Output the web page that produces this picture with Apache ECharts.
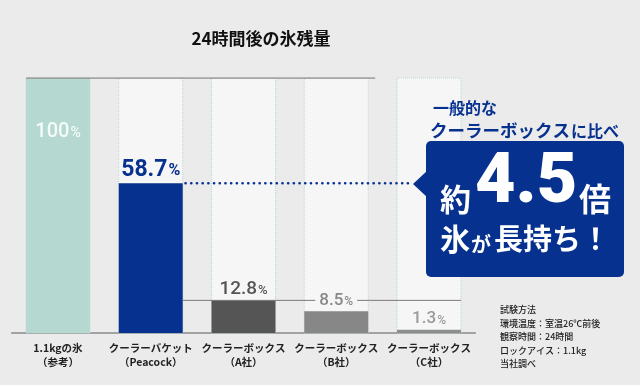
<!DOCTYPE html>
<html>
<head>
<meta charset="utf-8">
<script src="https://cdn.jsdelivr.net/npm/echarts@6/dist/echarts.min.js"></script>
<style>
html,body{margin:0;padding:0;background:#ebebeb;}
#c{width:640px;height:385px;}
</style>
</head>
<body>
<div id="c"></div>
<script>
const categories = ['1.1kgの氷\n（参考）', 'クーラーバケット\n（Peacock）', 'クーラーボックス\n（A社）', 'クーラーボックス\n（B社）', 'クーラーボックス\n（C社）'];
const values = [100, 58.7, 12.8, 8.5, 1.3];
const valueLabels = ['100', '58.7', '12.8', '8.5', '1.3'];
const barColors = ['#b5d8d0', '#06318f', '#555555', '#878787', '#8e8e8e'];
const labelColors = ['#f5fbf9', '#06318f', '#555555', '#888888', '#9a9a9a'];
const labelSizes = [20, 23, 19, 17, 17];
const noteLines = ['試験方法', '環境温度：室温26℃前後', '観察時間：24時間', 'ロックアイス：1.1kg', '当社調べ'];
const titleText = '24時間後の氷残量';

const BLUE = '#06318f';
const CJK = '"Noto Sans CJK JP"';
const NUM = 'Roboto, "Noto Sans CJK JP"';
const gridLeft = 11.6, gridRight = 164.6, gridTop = 78, gridBottom = 52;
const barWidthPx = 64;
const bandPx = (640 - gridLeft - gridRight) / categories.length;
const half = barWidthPx / 2 / bandPx;

const labelItems = values.map((v, i) => {
  const isFirst = i === 0;
  const lbl = {
    show: true,
    position: isFirst ? 'insideTop' : 'top',
    distance: isFirst ? 44 : 2,
    formatter: '{n|' + valueLabels[i] + '}{p|%}',
    rich: {
      n: {fontSize: labelSizes[i], lineHeight: labelSizes[i], color: labelColors[i], fontFamily: NUM, fontWeight: i === 1 ? 'bold' : 500},
      p: {fontSize: Math.round(labelSizes[i] * 0.68), lineHeight: labelSizes[i], color: labelColors[i], fontFamily: NUM, fontWeight: i === 1 ? 'bold' : 500, padding: [3, 0, 0, 1]}
    }
  };
  if (i === 3) { lbl.backgroundColor = '#f6f6f6'; lbl.padding = [0, 4]; }
  return {value: v, label: lbl};
});

const lineStyleBase = {silent: true, type: 'line', xAxisIndex: 1, yAxisIndex: 0, symbol: 'none', z: 3, animation: false};

const chart = echarts.init(document.getElementById('c'));
const Z = 100;
chart.setOption({
  backgroundColor: '#ebebeb',
  animation: false,
  grid: {left: gridLeft, right: gridRight, top: gridTop, bottom: gridBottom, containLabel: false},
  xAxis: [
    {
      type: 'category', data: categories,
      axisTick: {show: false},
      axisLine: {lineStyle: {color: '#8a8a8a', width: 1.5}},
      axisLabel: {interval: 0, color: '#222', fontSize: 10.5, fontWeight: 'bold', lineHeight: 14, margin: 8, fontFamily: CJK}
    },
    {type: 'value', min: 0, max: categories.length, show: false}
  ],
  yAxis: {type: 'value', min: 0, max: 100, show: false},
  series: [
    {
      type: 'bar', barWidth: barWidthPx, z: 2,
      showBackground: true,
      backgroundStyle: {color: '#f6f6f6', borderColor: '#b9dad3', borderWidth: 1, borderType: 'dotted'},
      data: values.map((v, i) => ({value: v, itemStyle: {color: barColors[i]}}))
    },
    Object.assign({}, lineStyleBase, {
      data: [[0.5 - half, 100], [3.92, 100]],
      lineStyle: {color: '#8f8f8f', width: 1.5}
    }),
    Object.assign({}, lineStyleBase, {
      data: [[1.5 + half + 0.03, values[1]], [4.3, values[1]]],
      lineStyle: {color: BLUE, width: 2.6, type: [0.1, 5.6], cap: 'round'}
    }),
    Object.assign({}, lineStyleBase, {
      data: [[1.5 + half, values[2]], [4.5 + half, values[2]]],
      lineStyle: {color: '#7a7a7a', width: 1}
    }),
    {
      type: 'bar', barWidth: barWidthPx, barGap: '-100%', z: 4, silent: true,
      itemStyle: {color: 'transparent'},
      data: labelItems
    }
  ],
  graphic: [
    {type: 'text', z: Z, x: 261, y: 39, style: {text: titleText, align: 'center', verticalAlign: 'middle', font: 'bold 17px ' + CJK, fill: '#111'}},
    {type: 'polygon', z: Z, shape: {points: [[428, 170], [413, 184], [428, 198]]}, style: {fill: BLUE}},
    {type: 'rect', z: Z, shape: {x: 426, y: 141, width: 198, height: 136, r: 5}, style: {fill: BLUE}},
    {type: 'text', z: Z, x: 433, y: 108, style: {text: '一般的な', verticalAlign: 'middle', font: 'bold 16px ' + CJK, fill: BLUE}},
    {type: 'text', z: Z, x: 430, y: 130, style: {text: 'クーラーボックス', verticalAlign: 'middle', font: 'bold 17.5px ' + CJK, fill: BLUE}},
    {type: 'text', z: Z, x: 571, y: 131, style: {text: 'に比べ', verticalAlign: 'middle', font: 'bold 16px ' + CJK, fill: BLUE}},
    {type: 'text', z: Z + 1, x: 440, y: 199, style: {text: '約', verticalAlign: 'middle', font: 'bold 31px ' + CJK, fill: '#fff'}},
    {type: 'text', z: Z + 1, x: 475, y: 184, style: {text: '4.5', verticalAlign: 'middle', font: '900 70px Roboto', fill: '#fff'}},
    {type: 'text', z: Z + 1, x: 579, y: 199, style: {text: '倍', verticalAlign: 'middle', font: 'bold 32px ' + CJK, fill: '#fff'}},
    {type: 'text', z: Z + 1, x: 440, y: 239, style: {text: '氷', verticalAlign: 'middle', font: 'bold 30px ' + CJK, fill: '#fff'}},
    {type: 'text', z: Z + 1, x: 471, y: 244, style: {text: 'が', verticalAlign: 'middle', font: 'bold 20px ' + CJK, fill: '#fff'}},
    {type: 'text', z: Z + 1, x: 494, y: 239, style: {text: '長持ち！', verticalAlign: 'middle', font: 'bold 29px ' + CJK, fill: '#fff'}},
    {type: 'text', z: Z, x: 500, y: 303, style: {text: noteLines.join('\n'), verticalAlign: 'top', font: '500 9px ' + CJK, lineHeight: 13.5, fill: '#222'}}
  ]
});
</script>
</body>
</html>
